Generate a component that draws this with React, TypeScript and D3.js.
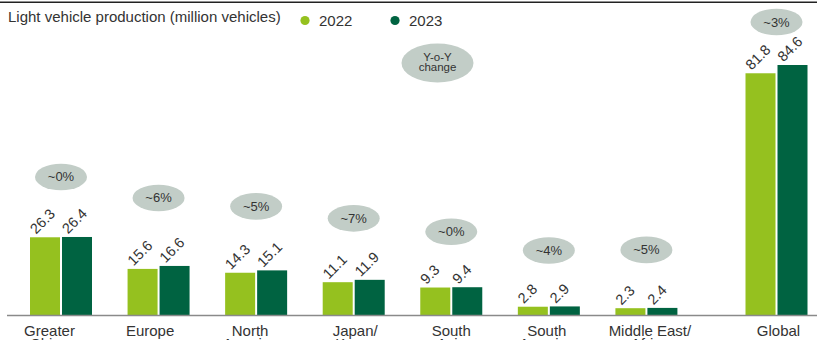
import React from "react";
import * as d3 from "d3";

const categories = ["Greater China", "Europe", "North America", "Japan/ Korea", "South Asia", "South America", "Middle East/ Africa", "Global"];
const labelLines = [["Greater", "China"], ["Europe"], ["North", "America"], ["Japan/", "Korea"], ["South", "Asia"], ["South", "America"], ["Middle East/", "Africa"], ["Global"]];
const values2022 = [26.3, 15.6, 14.3, 11.1, 9.3, 2.8, 2.3, 81.8];
const values2023 = [26.4, 16.6, 15.1, 11.9, 9.4, 2.9, 2.4, 84.6];
const yoyChange = ["~0%", "~6%", "~5%", "~7%", "~0%", "~4%", "~5%", "~3%"];
const seriesNames = ["2022", "2023"];

// layout helpers (pixels, not data)
const bubbleLift = [60, 68, 64, 61.5, 55.5, 56, 58, 43];
const labelShift = [-11.5, -8.5, -6, 1.5, 0, -2, 3.5, 2];

const W = 817;
const H = 340;
const COLORS = ["#95c11f", "#006341"];
const FONT = "'Liberation Sans', Arial, Helvetica, sans-serif";
const TEXT = "#333333";

export default function App() {
  const slot = (i: number) => (i < 7 ? i : 7 + 1 / 3);
  const x = d3.scaleLinear().domain([0, 7 + 1 / 3]).range([61, 776.5]);
  const y = d3.scaleLinear().domain([0, 84.6]).range([315, 65]);
  const barW = 30;

  return (
    <svg width={W} height={H} style={{ position: "absolute", left: 0, top: 0, background: "#fff" }} fontFamily={FONT}>
      <line x1={0} x2={W} y1={2.3} y2={2.3} stroke="#222" strokeWidth={1.5} />
      <text x={8} y={22} fontSize={15} fill={TEXT}>Light vehicle production (million vehicles)</text>
      {seriesNames.map((s, k) => (
        <g key={s}>
          <circle cx={305 + k * 90} cy={20.5} r={4.6} fill={COLORS[k]} />
          <text x={319 + k * 90} y={26} fontSize={15} fill={TEXT}>{s}</text>
        </g>
      ))}
      <ellipse cx={437.5} cy={63} rx={36} ry={19.5} fill="#c2cdc7" />
      <text x={437.5} y={60.5} fontSize={11.5} fill={TEXT} textAnchor="middle">Y-o-Y</text>
      <text x={437.5} y={71} fontSize={11.5} fill={TEXT} textAnchor="middle">change</text>

      {categories.map((c, i) => {
        const cx = x(slot(i));
        const vals = [values2022[i], values2023[i]];
        const maxTop = y(Math.max(...vals));
        const by = maxTop - bubbleLift[i];
        return (
          <g key={c}>
            {vals.map((v, k) => {
              const bx = k === 0 ? cx - 31 : cx + 1;
              const top = y(v);
              const lx = bx + 6;
              const ly = top - 2.5;
              return (
                <g key={k}>
                  <rect x={bx} y={top} width={barW} height={y(0) - top} fill={COLORS[k]} />
                  <text x={lx} y={ly} fontSize={14.5} fill={TEXT} transform={`rotate(-45 ${lx} ${ly})`}>
                    {v.toFixed(1)}
                  </text>
                </g>
              );
            })}
            <ellipse cx={cx} cy={by} rx={26} ry={13.3} fill="#c2cdc7" />
            <text x={cx} y={by + 4.5} fontSize={13} fill={TEXT} textAnchor="middle">{yoyChange[i]}</text>
            {labelLines[i].map((ln, j) => (
              <text key={j} x={cx + labelShift[i]} y={336 + j * 13} fontSize={15} fill={TEXT} textAnchor="middle">{ln}</text>
            ))}
          </g>
        );
      })}
      <line x1={7} x2={W} y1={y(0) + 0.5} y2={y(0) + 0.5} stroke="#8a8a8a" strokeWidth={1.5} />
    </svg>
  );
}
